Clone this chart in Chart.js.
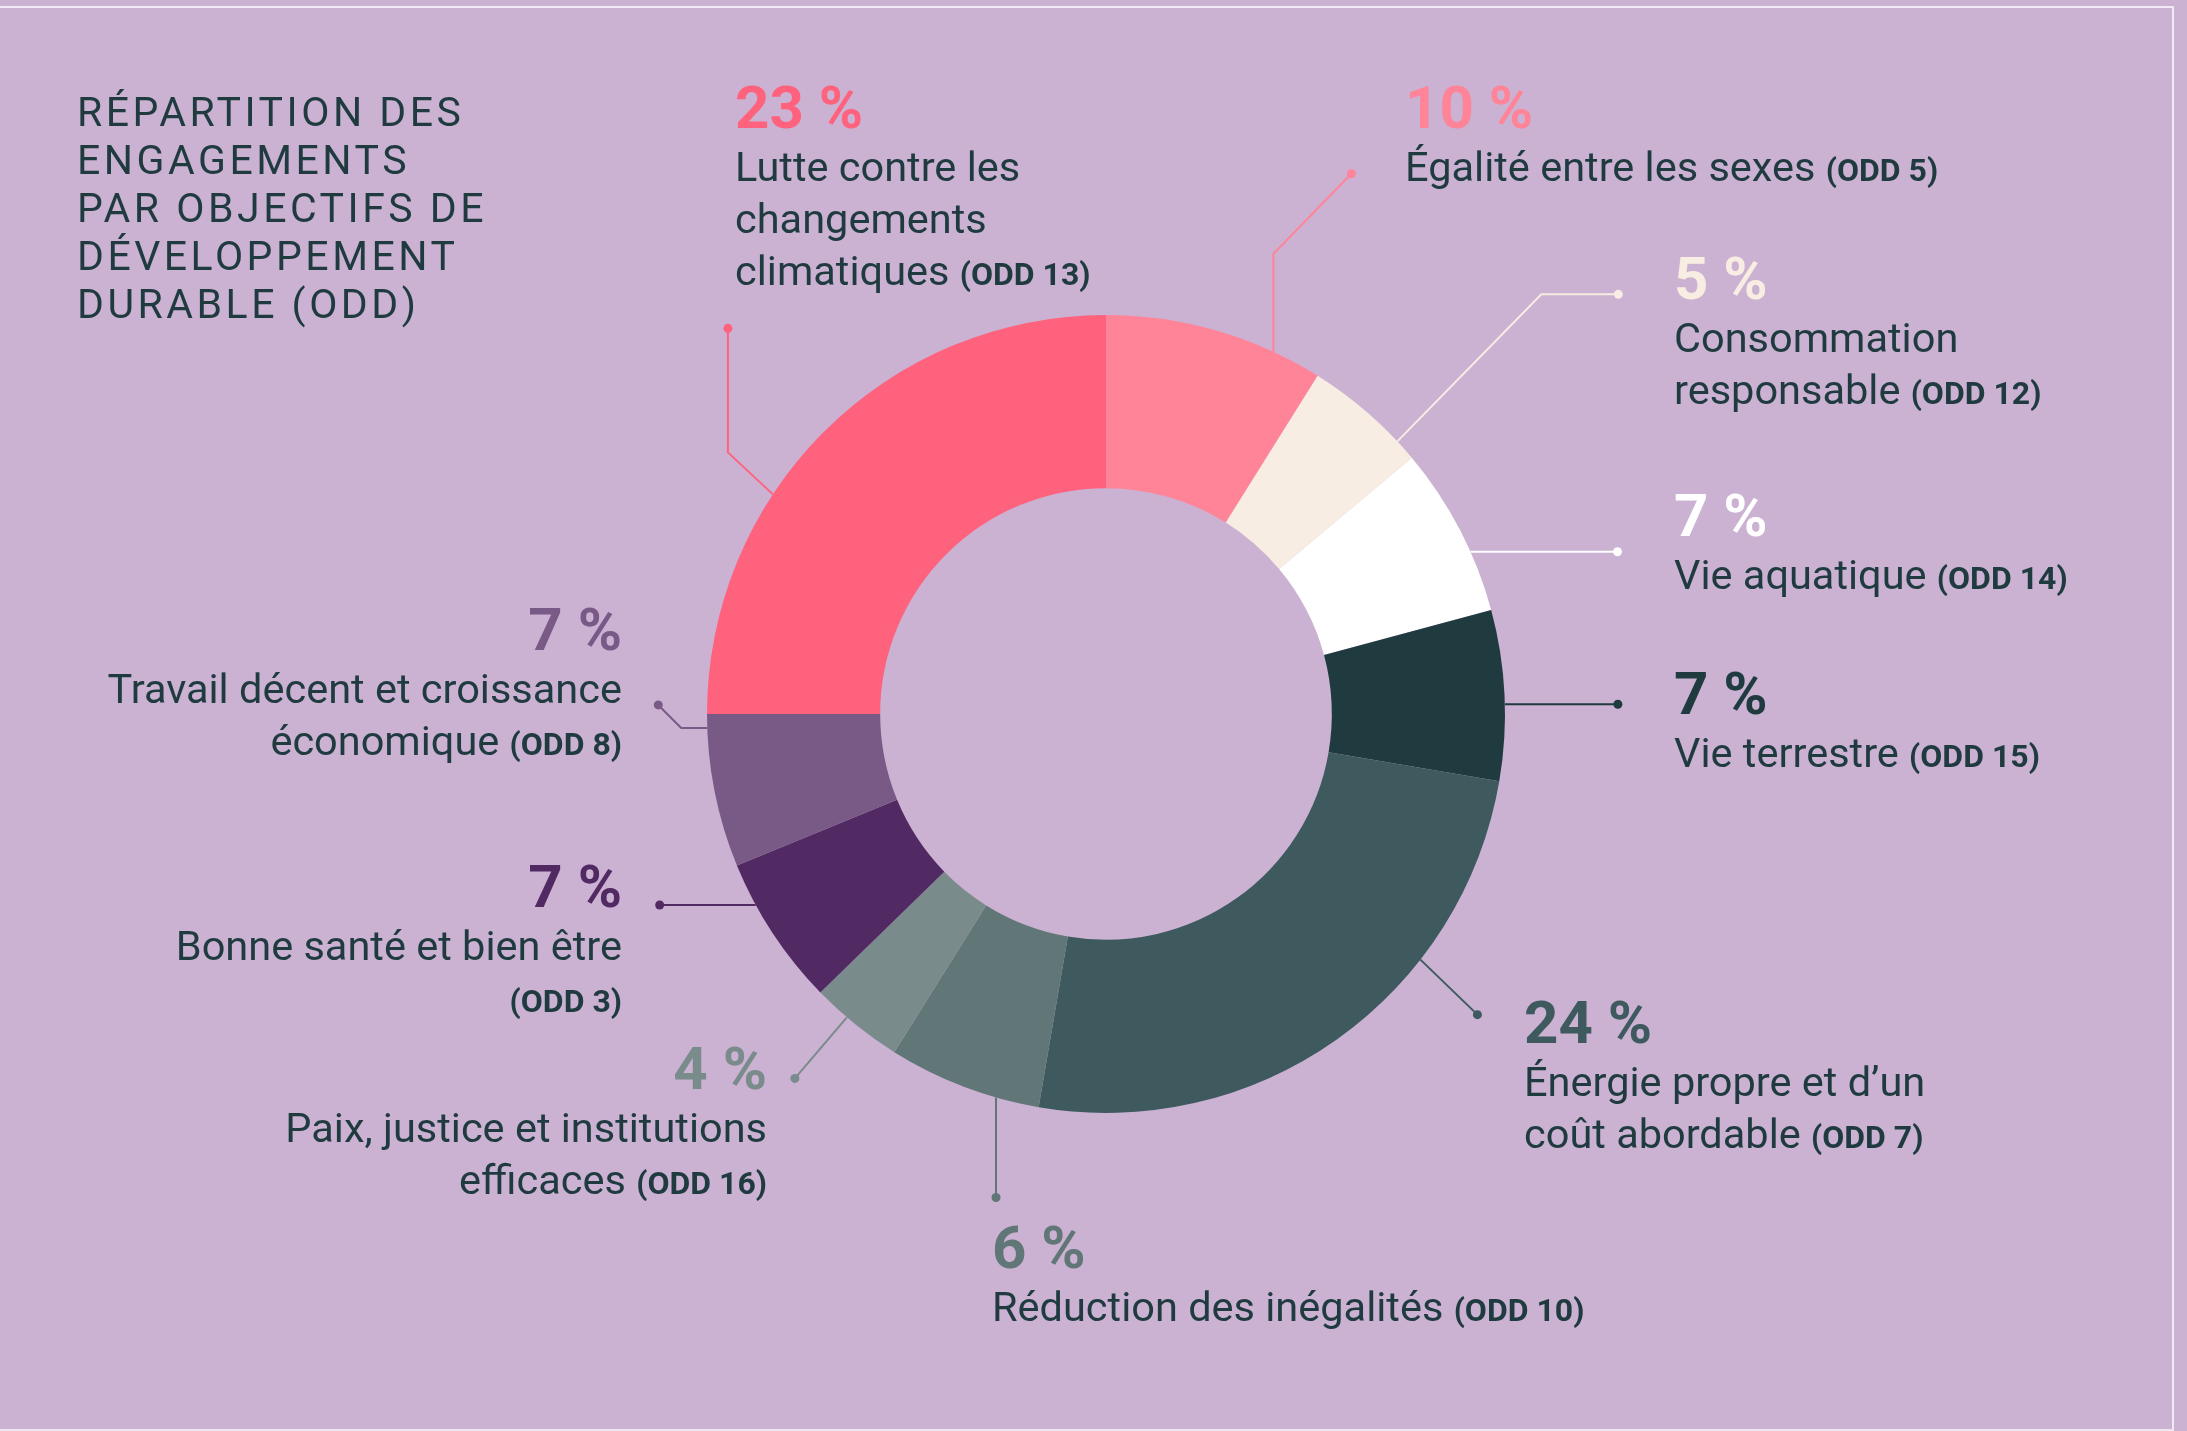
<!DOCTYPE html>
<html>
<head>
<meta charset="utf-8">
<script src="https://cdn.jsdelivr.net/npm/chart.js@4.4.1/dist/chart.umd.min.js"></script>
<style>
  html, body { margin: 0; padding: 0; background: #cbb1d2; overflow: hidden; }
  #wrap { position: relative; width: 2187px; height: 1431px; }
  #frame { position: absolute; left: -4px; top: 6px; width: 2176px; height: 1421px;
           border-top: 2px solid #f1e9f3; border-right: 2px solid #f1e9f3; border-bottom: 2px solid #ece6ee; }
  canvas { position: absolute; left: 0; top: 0; }
</style>
</head>
<body>
<div id="wrap">
  <div id="frame"></div>
  <canvas id="odd" width="2187" height="1431"></canvas>
</div>
<script>
// slices clockwise from 12 o'clock
const categories = [
  'Égalité entre les sexes', 'Consommation responsable', 'Vie aquatique', 'Vie terrestre',
  'Énergie propre et d’un coût abordable', 'Réduction des inégalités',
  'Paix, justice et institutions efficaces', 'Bonne santé et bien être',
  'Travail décent et croissance économique', 'Lutte contre les changements climatiques'
];
const oddCodes = ['(ODD 5)', '(ODD 12)', '(ODD 14)', '(ODD 15)', '(ODD 7)', '(ODD 10)', '(ODD 16)', '(ODD 3)', '(ODD 8)', '(ODD 13)'];
const shares = [8.9, 5.0, 6.9, 6.9, 25.0, 6.2, 3.8, 6.1, 6.2, 25.0];   // arc sizes as drawn
const pctLabels = [10, 5, 7, 7, 24, 6, 4, 7, 7, 23];                  // printed percentages
const sliceColors = ['#ff8497', '#f8ede2', '#ffffff', '#1f3b40', '#3e5a5f', '#617677', '#7a8b8b', '#522a63', '#795a87', '#ff627d'];

const TEXT = '#1f3b40';
const titleLines = ['RÉPARTITION DES', 'ENGAGEMENTS', 'PAR OBJECTIFS DE', 'DÉVELOPPEMENT', 'DURABLE (ODD)'];

// label layout: wrapped lines, anchor, leader (angle on ring + path steps)
const labelLayout = [
  { lines: ['Égalité entre les sexes'], x: 1405, y: 107, align: 'left', angle: 24.8, path: [[0, -98], [78, -80]] },
  { lines: ['Consommation', 'responsable'], x: 1674, y: 278, align: 'left', angle: 46.9, path: [[144, -147], [77, 0]] },
  { lines: ['Vie aquatique'], x: 1674, y: 515, align: 'left', angle: 66, path: [[147, 0]] },
  { lines: ['Vie terrestre'], x: 1674, y: 693, align: 'left', angle: 88.6, path: [[113, 0]] },
  { lines: ['Énergie propre et d’un', 'coût abordable'], x: 1524, y: 1022, align: 'left', angle: 128, path: [[57, 55]] },
  { lines: ['Réduction des inégalités'], x: 992, y: 1247, align: 'left', angle: 196, path: [[0, 100]] },
  { lines: ['Paix, justice et institutions', 'efficaces'], x: 767, y: 1068, align: 'right', angle: 220.5, path: [[-52, 61]] },
  { lines: ['Bonne santé et bien être', ''], x: 622, y: 886, align: 'right', angle: 241.4, path: [[-96, 0]] },
  { lines: ['Travail décent et croissance', 'économique'], x: 622, y: 629, align: 'right', angle: 268, path: [[-26, 0], [-23, -23]] },
  { lines: ['Lutte contre les', 'changements', 'climatiques'], x: 735, y: 107, align: 'left', angle: 303.4, path: [[-45, -42], [0, -124]] }
];

const BODY = '41.5px Roboto';
const ODDF = 'bold 32px Roboto';
const PCTF = 'bold 60px Roboto';

const labelsPlugin = {
  id: 'oddLabels',
  afterDraw(chart) {
    const ctx = chart.ctx;
    const arc = chart.getDatasetMeta(0).data[0];
    const cx = arc.x, cy = arc.y, r = arc.outerRadius;
    ctx.save();

    // title
    ctx.font = '41px Roboto';
    ctx.letterSpacing = '3.5px';
    ctx.fillStyle = TEXT;
    ctx.textAlign = 'left';
    ctx.textBaseline = 'alphabetic';
    titleLines.forEach((t, i) => ctx.fillText(t, 77, 126 + i * 48));
    ctx.letterSpacing = '0px';

    labelLayout.forEach((lab, i) => {
      const color = sliceColors[i];
      // leader
      const a = lab.angle * Math.PI / 180;
      let px = cx + r * Math.sin(a), py = cy - r * Math.cos(a);
      ctx.strokeStyle = color;
      ctx.lineWidth = 2;
      ctx.beginPath();
      ctx.moveTo(px, py);
      lab.path.forEach(s => { px += s[0]; py += s[1]; ctx.lineTo(px, py); });
      ctx.stroke();
      ctx.fillStyle = color;
      ctx.beginPath();
      ctx.arc(px, py, 4.5, 0, Math.PI * 2);
      ctx.fill();

      // percentage
      ctx.font = PCTF;
      ctx.textAlign = lab.align;
      ctx.fillText(pctLabels[i] + ' %', lab.x, lab.y + 21);

      // text lines, last one carries the ODD code
      ctx.textAlign = 'left';
      lab.lines.forEach((line, j) => {
        const last = j === lab.lines.length - 1;
        const base = lab.y + 60 + j * 52 + 14;
        ctx.font = BODY;
        const txt = last && line ? line + ' ' : line;
        const w1 = ctx.measureText(txt).width;
        ctx.font = ODDF;
        const w2 = last ? ctx.measureText(oddCodes[i]).width : 0;
        let x0 = lab.align === 'right' ? lab.x - w1 - w2 : lab.x;
        ctx.font = BODY;
        ctx.fillStyle = TEXT;
        ctx.fillText(txt, x0, base);
        if (last) {
          ctx.font = ODDF;
          ctx.fillText(oddCodes[i], x0 + w1, base);
        }
      });
    });
    ctx.restore();
  }
};

new Chart(document.getElementById('odd').getContext('2d'), {
  type: 'doughnut',
  data: {
    labels: categories,
    datasets: [{
      data: shares,
      backgroundColor: sliceColors,
      borderWidth: 0
    }]
  },
  options: {
    responsive: false,
    animation: false,
    devicePixelRatio: 1,
    cutout: '56.6%',
    layout: { padding: { left: 707, right: 682, top: 315, bottom: 318 } },
    plugins: { legend: { display: false }, tooltip: { enabled: false } }
  },
  plugins: [labelsPlugin]
});
</script>
</body>
</html>
